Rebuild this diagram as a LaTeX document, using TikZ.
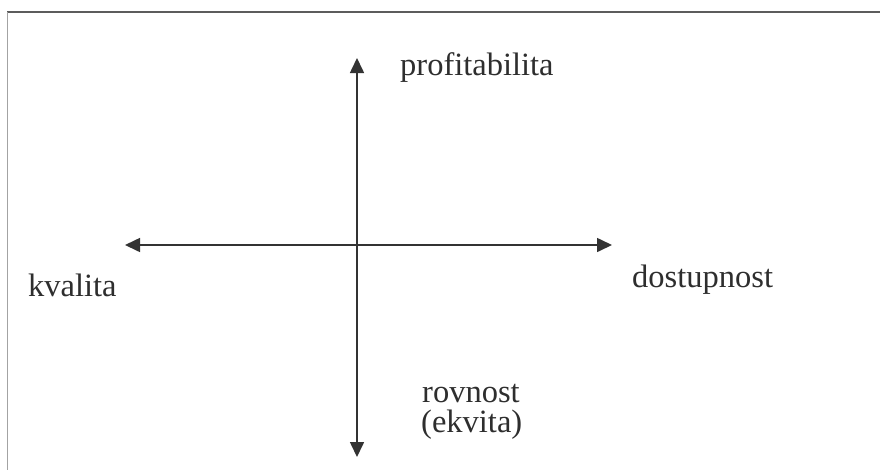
\documentclass[tikz,border=0pt]{standalone}
\usepackage{fontspec}
\setmainfont{Liberation Serif}
\usetikzlibrary{arrows.meta}
\definecolor{ink}{HTML}{333333}
\begin{document}
\begin{tikzpicture}[x=1pt,y=-1pt,
  axis/.style={line width=1.6pt,draw=ink,{Triangle[length=15pt,width=14pt]}-{Triangle[length=15pt,width=14pt]}},
  lbl/.style={font=\fontsize{32.5}{36}\selectfont,text=ink!90!black,inner sep=0pt},
  frameline/.style={draw=ink!80,line width=2pt}]
\useasboundingbox (0,0) rectangle (880,475);
\fill[white] (0,0) rectangle (880,475);
% frame
\coordinate (fTL) at (7,12);
\coordinate (fTR) at (880,12);
\coordinate (fBL) at (7,470);
\draw[frameline] (fTR) -- (fTL);
\draw[draw=ink!45,line width=1pt] (fTL) -- (fBL);
% axes
\coordinate (top) at (357,58);
\coordinate (bot) at (357,457);
\coordinate (lft) at (125,245);
\coordinate (rgt) at (612,245);
\draw[axis] (top) -- (bot);
\draw[axis] (lft) -- (rgt);
% labels
\node[lbl,anchor=base west] (prof) at (400,75) {profitabilita};
\node[lbl,anchor=base west] (kval) at (28,296) {kvalita};
\node[lbl,anchor=base west] (dost) at (632,287) {dostupnost};
\node[lbl,anchor=base west] (rovn) at (422,402) {rovnost};
\node[lbl,anchor=base west] (ekv) at (421,432) {(ekvita)};
\end{tikzpicture}
\end{document}
